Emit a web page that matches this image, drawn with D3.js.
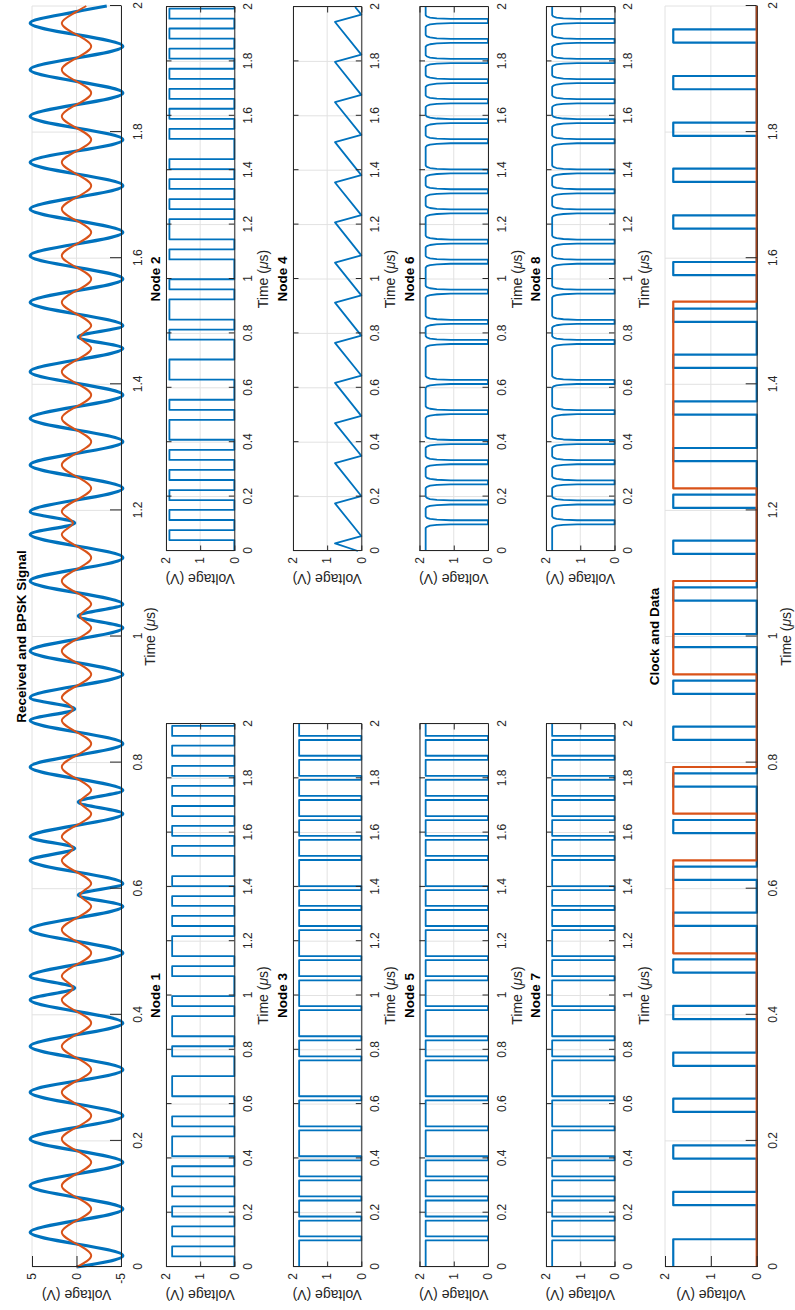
<!DOCTYPE html>
<html>
<head>
<meta charset="utf-8">
<script src="https://cdn.jsdelivr.net/npm/d3@7"></script>
<style>
  body { margin: 0; background: #fff; }
  svg { display: block; }
</style>
</head>
<body>
<script>
// ---------------- data ----------------
const timeTicks = [0, 0.2, 0.4, 0.6, 0.8, 1, 1.2, 1.4, 1.6, 1.8, 2];
const rfTicks = [-5, 0, 5];
const logicTicks = [0, 1, 2];

// carrier turning points (µs) of the received and BPSK traces
const rfTimes = [0, 0.018, 0.055, 0.092, 0.129, 0.166, 0.203, 0.240, 0.277, 0.313, 0.350, 0.387, 0.424, 0.4425,
  0.461, 0.498, 0.535, 0.572, 0.590, 0.608, 0.645, 0.664, 0.682, 0.719, 0.7375, 0.756, 0.793, 0.830, 0.867, 0.885,
  0.903, 0.940, 0.977, 1.014, 1.0325, 1.051, 1.088, 1.125, 1.162, 1.180, 1.198, 1.235, 1.272, 1.309, 1.346, 1.383,
  1.420, 1.457, 1.475, 1.493, 1.530, 1.567, 1.604, 1.641, 1.678, 1.715, 1.752, 1.788, 1.825, 1.862, 1.899, 1.936,
  1.973, 1.991, 2.0];
const receivedValues = [0, -5.2, 5.2, -5.2, 5.2, -5.2, 5.2, -5.2, 5.2, -5.2, 5.2, -5.2, 5.2, 0.2,
  5.2, -5.2, 5.2, -5.2, -0.2, -5.2, 5.2, 0.2, 5.2, -5.2, -0.2, -5.2, 5.2, -5.2, 5.2, 0.2,
  5.2, -5.2, 5.2, -5.2, -0.2, -5.2, 5.2, -5.2, 5.2, 0.2, 5.2, -5.2, 5.2, -5.2, 5.2, -5.2,
  5.2, -5.2, -0.2, -5.2, 5.2, -5.2, 5.2, -5.2, 5.2, -5.2, 5.2, -5.2, 5.2, -5.2, 5.2, -5.2,
  5.2, 0, -3.4];
const bpskValues = [0, -1.65, 1.65, -1.65, 1.65, -1.65, 1.65, -1.65, 1.65, -1.65, 1.65, -1.65, 1.65, 0.4,
  1.65, -1.65, 1.65, -1.65, -0.4, -1.65, 1.65, 0.4, 1.65, -1.65, -0.4, -1.65, 1.65, -1.65, 1.65, 0.4,
  1.65, -1.65, 1.65, -1.65, -0.4, -1.65, 1.65, -1.65, 1.65, 0.4, 1.65, -1.65, 1.65, -1.65, 1.65, -1.65,
  1.65, -1.65, -0.4, -1.65, 1.65, -1.65, 1.65, -1.65, 1.65, -1.65, 1.65, -1.65, 1.65, -1.65, 1.65, -1.65,
  1.65, 0, -1.1];

// logic-level high intervals: [rise, fall] in µs
const node1Pulses = [[0.039,0.076],[0.113,0.150],[0.186,0.223],[0.260,0.297],[0.334,0.371],[0.408,0.481],
  [0.518,0.555],[0.629,0.703],[0.776,0.813],[0.850,0.924],[0.961,0.998],[1.071,1.108],[1.145,1.219],
  [1.256,1.293],[1.330,1.366],[1.403,1.440],[1.514,1.551],[1.588,1.625],[1.661,1.698],[1.735,1.772],
  [1.809,1.846],[1.883,1.920],[1.956,1.993]];
const node2Pulses = [[0.040,0.077],[0.114,0.151],[0.187,0.224],[0.261,0.298],[0.335,0.372],[0.409,0.482],
  [0.519,0.556],[0.630,0.704],[0.777,0.814],[0.851,0.925],[0.962,0.999],[1.072,1.109],[1.146,1.220],
  [1.257,1.294],[1.331,1.367],[1.404,1.441],[1.515,1.552],[1.589,1.626],[1.662,1.699],[1.736,1.773],
  [1.810,1.847],[1.884,1.921],[1.957,1.994]];
const gatedPulses = [[0,0.098],[0.113,0.171],[0.186,0.245],[0.260,0.319],[0.334,0.393],[0.408,0.503],
  [0.518,0.614],[0.629,0.761],[0.776,0.835],[0.850,0.946],[0.961,1.056],[1.071,1.130],[1.145,1.241],
  [1.256,1.315],[1.330,1.388],[1.403,1.499],[1.514,1.573],[1.588,1.646],[1.661,1.720],[1.735,1.794],
  [1.809,1.868],[1.883,1.941],[1.956,2]];
const node3Pulses = gatedPulses;
const node5Pulses = gatedPulses;
const node6Pulses = gatedPulses;
const node7Pulses = gatedPulses;
const node8Pulses = gatedPulses;
const logicHigh = 1.82;
const node2High = 1.9;
// settling of a filtered edge: [µs after the edge, fraction of the high level]
const settle = [[0, 0.6], [0.002, 0.82], [0.005, 0.93], [0.009, 0.98], [0.014, 1]];

// node 4 ramp corners
const node4Times = [0, 0.028, 0.055, 0.175, 0.202, 0.323, 0.350, 0.470, 0.497, 0.618, 0.645, 0.765, 0.792,
  0.913, 0.940, 1.060, 1.087, 1.208, 1.235, 1.355, 1.382, 1.503, 1.530, 1.650, 1.677, 1.798, 1.825, 1.945, 1.972, 2.0];
const node4Values = [0.1, 0.77, 0, 0.77, 0, 0.77, 0, 0.77, 0, 0.77, 0, 0.77, 0, 0.77, 0,
  0.77, 0, 0.77, 0, 0.77, 0, 0.77, 0, 0.77, 0, 0.77, 0, 0.77, 0, 0.18];

const clockPulses = [[0,0.044],[0.098,0.119],[0.172,0.193],[0.246,0.267],[0.319,0.340],[0.393,0.414],[0.467,0.488],
  [0.541,0.562],[0.614,0.635],[0.688,0.709],[0.762,0.783],[0.836,0.857],[0.909,0.930],[0.983,1.004],[1.057,1.078],
  [1.131,1.152],[1.204,1.225],[1.278,1.299],[1.352,1.373],[1.426,1.447],[1.499,1.520],[1.573,1.594],[1.647,1.668],
  [1.721,1.742],[1.794,1.815],[1.868,1.889],[1.942,1.963]];
const dataPulses = [[0.4975,0.645],[0.719,0.793],[0.940,1.088],[1.235,1.531]];

// ---------------- drawing ----------------
const W = 795, H = 1310;
const FONT = '"Liberation Sans", Arial, Helvetica, sans-serif';
const AXIS = '#262626', GRID = '#e2e2e2', BLUE = '#0072BD', ORANGE = '#D95319';

const svg = d3.select('body').append('svg').attr('width', W).attr('height', H);
// the figure is laid out landscape and turned a quarter turn counter-clockwise
const fig = svg.append('g').attr('transform', `translate(0,${H}) rotate(-90)`);

const fmt = d => String(d);

function panel(cfg) {
  const x = d3.scaleLinear().domain([0, 2]).range([cfg.x0, cfg.x1]);
  const y = d3.scaleLinear().domain(cfg.yDomain).range([cfg.y1, cfg.y0]);
  const g = fig.append('g');

  // grid
  g.append('g').selectAll('line').data(timeTicks).join('line')
    .attr('x1', d => x(d)).attr('x2', d => x(d)).attr('y1', cfg.y0).attr('y2', cfg.y1)
    .attr('stroke', GRID).attr('stroke-width', 1);
  g.append('g').selectAll('line').data(cfg.yTicks).join('line')
    .attr('x1', cfg.x0).attr('x2', cfg.x1).attr('y1', d => y(d)).attr('y2', d => y(d))
    .attr('stroke', GRID).attr('stroke-width', 1);

  const plot = g.append('g');

  // axes
  const xa = g.append('g').attr('transform', `translate(0,${cfg.y1})`)
    .call(d3.axisBottom(x).tickValues(timeTicks).tickFormat(fmt)
      .tickSizeInner(-cfg.tick).tickSizeOuter(0).tickPadding(cfg.xPad));
  const ya = g.append('g').attr('transform', `translate(${cfg.x0},0)`)
    .call(d3.axisLeft(y).tickValues(cfg.yTicks).tickFormat(fmt)
      .tickSizeInner(-cfg.tick).tickSizeOuter(0).tickPadding(6));
  [xa, ya].forEach(a => {
    a.attr('font-family', FONT).attr('font-size', 12).attr('color', AXIS);
    a.select('.domain').attr('stroke-width', 1);
  });

  if (cfg.box) {
    const top = g.append('g').attr('transform', `translate(0,${cfg.y0})`)
      .call(d3.axisTop(x).tickValues(timeTicks).tickFormat('').tickSizeInner(-cfg.tick).tickSizeOuter(0));
    const right = g.append('g').attr('transform', `translate(${cfg.x1},0)`)
      .call(d3.axisRight(y).tickValues(cfg.yTicks).tickFormat('').tickSizeInner(-cfg.tick).tickSizeOuter(0));
    [top, right].forEach(a => a.attr('color', AXIS));
  }

  // labels
  const xl = g.append('text')
    .attr('x', (cfg.x0 + cfg.x1) / 2).attr('y', cfg.y1 + 34)
    .attr('text-anchor', 'middle').attr('font-family', FONT).attr('font-size', 14).attr('fill', AXIS);
  xl.append('tspan').text('Time (');
  xl.append('tspan').attr('font-style', 'italic').text('\u03bc');
  xl.append('tspan').text('s)');

  g.append('text')
    .attr('transform', `translate(${cfg.x0 - 23},${(cfg.y0 + cfg.y1) / 2}) rotate(-90)`)
    .attr('text-anchor', 'middle').attr('font-family', FONT).attr('font-size', 14).attr('fill', AXIS)
    .text('Voltage (V)');

  g.append('text')
    .attr('x', (cfg.x0 + cfg.x1) / 2).attr('y', cfg.y0 - 6)
    .attr('text-anchor', 'middle').attr('font-family', FONT).attr('font-size', 13.5)
    .attr('font-weight', 'bold').attr('fill', '#000')
    .text(cfg.title);

  return { x, y, plot };
}

// square pulses as a polyline
function pulsePoints(pulses, level) {
  const pts = [];
  if (!pulses.length || pulses[0][0] > 0) pts.push([0, 0]);
  pulses.forEach(([a, b]) => {
    if (a > 0) pts.push([a, 0]);
    pts.push([a, level], [b, level]);
    if (b < 2) pts.push([b, 0]);
  });
  if (pts[pts.length - 1][0] < 2) pts.push([2, 0]);
  return pts;
}

// pulses whose high corners are rounded by the node's filtering
function roundedPoints(pulses, level) {
  const pts = [];
  if (pulses[0][0] > 0) pts.push([0, 0]);
  pulses.forEach(([a, b]) => {
    if (a > 0) { pts.push([a, 0]); settle.forEach(([dt, f]) => pts.push([a + dt, f * level])); }
    else pts.push([a, level]);
    if (b < 2) { settle.slice().reverse().forEach(([dt, f]) => pts.push([b - dt, f * level])); pts.push([b, 0]); }
    else pts.push([b, level]);
  });
  if (pts[pts.length - 1][0] < 2) pts.push([2, 0]);
  return pts;
}

function drawLine(p, pts, color, width, curve) {
  p.plot.append('path')
    .attr('d', d3.line().x(d => p.x(d[0])).y(d => p.y(d[1])).curve(curve || d3.curveLinear)(pts))
    .attr('fill', 'none').attr('stroke', color).attr('stroke-width', width)
    .attr('stroke-linejoin', 'round');
}

// panel geometry (landscape frame)
const left = [43, 586], right = [759, 1303], full = [43, 1304];
const rows = [[166, 234.3], [293, 361.3], [419.5, 488], [546, 614.5]];

// received and BPSK
const rf = panel({ x0: full[0], x1: full[1], y0: 32, y1: 121, yDomain: [-5, 5], yTicks: rfTicks,
  tick: 11, xPad: 12, box: false, title: 'Received and BPSK Signal' });
drawLine(rf, rfTimes.map((t, i) => [t, receivedValues[i]]), BLUE, 3.2, d3.curveMonotoneX);
drawLine(rf, rfTimes.map((t, i) => [t, bpskValues[i]]), ORANGE, 2, d3.curveMonotoneX);

// nodes
const nodeTraces = [
  pulsePoints(node1Pulses, logicHigh),
  pulsePoints(node2Pulses, node2High),
  pulsePoints(node3Pulses, logicHigh),
  node4Times.map((t, k) => [t, node4Values[k]]),
  pulsePoints(node5Pulses, logicHigh),
  roundedPoints(node6Pulses, logicHigh),
  pulsePoints(node7Pulses, logicHigh),
  roundedPoints(node8Pulses, logicHigh)
];
nodeTraces.forEach((pts, i) => {
  const col = i % 2 === 0 ? left : right;
  const row = rows[Math.floor(i / 2)];
  const p = panel({ x0: col[0], x1: col[1], y0: row[0], y1: row[1], yDomain: [0, 2], yTicks: logicTicks,
    tick: 5.5, xPad: 9, box: true, title: 'Node ' + (i + 1) });
  drawLine(p, pts, BLUE, 1.8);
});

// clock and data
const cd = panel({ x0: full[0], x1: full[1], y0: 665, y1: 756.7, yDomain: [0, 2], yTicks: logicTicks,
  tick: 11, xPad: 12, box: false, title: 'Clock and Data' });
drawLine(cd, pulsePoints(clockPulses, logicHigh), BLUE, 2.2);
drawLine(cd, pulsePoints(dataPulses, logicHigh), ORANGE, 2.2);
</script>
</body>
</html>
